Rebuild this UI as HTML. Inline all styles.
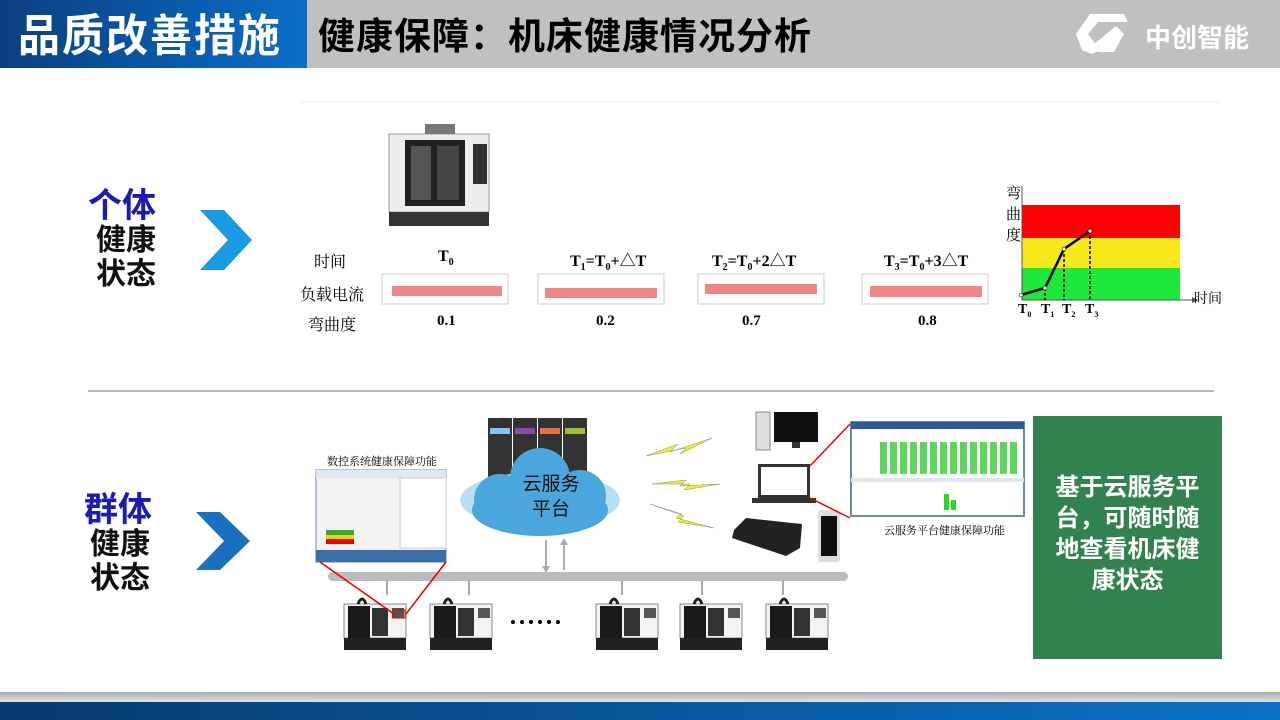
<!DOCTYPE html>
<html><head><meta charset="utf-8"><style>
*{margin:0;padding:0;box-sizing:border-box}
body{width:1280px;height:720px;position:relative;background:#fff;overflow:hidden;font-family:"Liberation Sans","Noto Sans CJK SC",sans-serif}
.a{position:absolute}
.hd{font-weight:bold;white-space:nowrap}
.ser{font-family:"Liberation Serif","Noto Serif CJK SC",serif}
</style></head><body>
<div class="a" style="left:0;top:0;width:307px;height:68px;background:linear-gradient(90deg,#0a3f80,#0a6ec8)"></div>
<div class="a" style="left:307px;top:0;width:973px;height:68px;background:#c0c0c0"></div>
<div class="a hd" style="left:18px;top:10px;font-size:42px;line-height:50px;color:#fff;letter-spacing:2px;transform:scaleY(1.05);transform-origin:left top">品质改善措施</div>
<div class="a hd" style="left:318px;top:14px;font-size:37px;line-height:46px;color:#000;letter-spacing:1px">健康保障：机床健康情况分析</div>
<svg class="a" style="left:1068px;top:12px" width="70" height="44"><polygon points="8,22 22,2 56,2 60,10 30,10 20,22 32,38 24,42 14,38" fill="#fff"/><polygon points="26,32 48,14 56,22 46,40 30,40" fill="#fff"/></svg>
<div class="a hd" style="left:1145px;top:18px;font-size:26px;color:#fff;letter-spacing:0px">中创智能</div>

<div class="a" style="left:300px;top:102px;width:920px;height:1px;background:#eee"></div>
<div class="a" style="left:88px;top:390px;width:1126px;height:2px;background:#bbb"></div>

<div class="a hd" style="left:88px;top:178px;font-size:34px;color:#1a1ab4">个体</div>
<div class="a hd" style="left:96px;top:224px;font-size:30px;line-height:34px;color:#111">健康<br>状态</div>
<svg class="a" style="left:200px;top:210px" width="52" height="60"><polygon points="0,0 24,0 52,30 24,60 0,60 28,30" fill="#1a9ae0"/></svg>
<div class="a hd" style="left:84px;top:482px;font-size:34px;color:#1a1ab4">群体</div>
<div class="a hd" style="left:90px;top:528px;font-size:30px;line-height:34px;color:#111">健康<br>状态</div>
<svg class="a" style="left:196px;top:512px" width="54" height="58"><polygon points="0,0 24,0 54,29 24,58 0,58 28,29" fill="#1a70c0"/></svg>

<svg class="a" style="left:385px;top:120px" width="115" height="110">
<rect x="4" y="14" width="100" height="78" fill="#eee" stroke="#999"/>
<rect x="20" y="20" width="60" height="66" fill="#222"/>
<rect x="26" y="26" width="20" height="54" fill="#555"/>
<rect x="52" y="26" width="22" height="54" fill="#444"/>
<rect x="88" y="24" width="14" height="40" fill="#333"/>
<rect x="40" y="4" width="30" height="10" fill="#777"/>
<rect x="4" y="92" width="100" height="14" fill="#333"/>
</svg>
<div class="a ser" style="left:314px;top:249px;font-size:16px">时间</div>
<div class="a ser" style="left:300px;top:282px;font-size:16px">负载电流</div>
<div class="a ser" style="left:308px;top:312px;font-size:16px">弯曲度</div>
<div class="a ser hd" style="left:438px;top:248px;font-size:16px">T<sub style="font-size:10px">0</sub></div>
<div class="a ser hd" style="left:570px;top:248px;font-size:16px">T<sub style="font-size:10px">1</sub>=T<sub style="font-size:10px">0</sub>+△T</div>
<div class="a ser hd" style="left:712px;top:248px;font-size:16px">T<sub style="font-size:10px">2</sub>=T<sub style="font-size:10px">0</sub>+2△T</div>
<div class="a ser hd" style="left:884px;top:248px;font-size:16px">T<sub style="font-size:10px">3</sub>=T<sub style="font-size:10px">0</sub>+3△T</div>
<div class="a ser hd" style="left:437px;top:313px;font-size:15px">0.1</div>
<div class="a ser hd" style="left:596px;top:313px;font-size:15px">0.2</div>
<div class="a ser hd" style="left:742px;top:313px;font-size:15px">0.7</div>
<div class="a ser hd" style="left:918px;top:313px;font-size:15px">0.8</div>
<svg class="a" style="left:380px;top:272px" width="620" height="36">
<g fill="none" stroke="#ccc"><rect x="2" y="2" width="126" height="30"/><rect x="158" y="2" width="126" height="30"/><rect x="318" y="2" width="126" height="30"/><rect x="482" y="2" width="126" height="30"/></g>
<g fill="#f07070" opacity=".85"><rect x="12" y="14" width="110" height="10"/><rect x="165" y="16" width="112" height="10"/><rect x="325" y="12" width="112" height="10"/><rect x="490" y="14" width="112" height="11"/></g>
</svg>
<svg class="a" style="left:1000px;top:180px" width="230" height="150">
<rect x="22" y="25" width="158" height="33" fill="#f00"/>
<rect x="22" y="58" width="158" height="30" fill="#f5e91a"/>
<rect x="22" y="88" width="158" height="32" fill="#1ee83c"/>
<line x1="22" y1="6" x2="22" y2="120" stroke="#555"/>
<line x1="22" y1="120" x2="192" y2="120" stroke="#555"/>
<polygon points="192,117 198,120 192,123" fill="#555"/>
<g stroke="#000" stroke-dasharray="3,2" stroke-width="1.5"><line x1="45" y1="108" x2="45" y2="120"/><line x1="64" y1="69" x2="64" y2="120"/><line x1="90" y1="51" x2="90" y2="120"/></g>
<polyline points="21,115 45,108 64,69 90,51" fill="none" stroke="#000" stroke-width="2.5"/>
<g fill="#fff" stroke="#000" stroke-width=".5"><circle cx="21" cy="115" r="2"/><circle cx="45" cy="108" r="2"/><circle cx="64" cy="69" r="2"/><circle cx="90" cy="51" r="2"/></g>
</svg>
<div class="a ser" style="left:1006px;top:184px;font-size:15px;line-height:21px">弯<br>曲<br>度</div>
<div class="a ser" style="left:1194px;top:288px;font-size:14px">时间</div>
<div class="a ser hd" style="left:1018px;top:302px;font-size:14px">T<sub style="font-size:8px">0</sub></div>
<div class="a ser hd" style="left:1041px;top:302px;font-size:14px">T<sub style="font-size:8px">1</sub></div>
<div class="a ser hd" style="left:1062px;top:302px;font-size:14px">T<sub style="font-size:8px">2</sub></div>
<div class="a ser hd" style="left:1085px;top:302px;font-size:14px">T<sub style="font-size:8px">3</sub></div>

<svg class="a" style="left:300px;top:400px" width="560" height="270">
<defs><g id="m"><rect x="0" y="12" width="62" height="34" fill="#f4f4f4" stroke="#888"/><rect x="4" y="14" width="22" height="32" fill="#1a1a1a"/><rect x="28" y="16" width="16" height="28" fill="#333"/><rect x="48" y="16" width="12" height="10" fill="#555"/><path d="M14 12 q4 -10 8 0" stroke="#222" fill="none" stroke-width="3"/><rect x="0" y="46" width="62" height="12" fill="#222"/></g></defs>
<rect x="28" y="172" width="520" height="9" rx="4.5" fill="#bbb"/>
<g stroke="#aaa" stroke-width="2"><line x1="87" y1="181" x2="87" y2="195"/><line x1="169" y1="181" x2="169" y2="195"/><line x1="322" y1="181" x2="322" y2="195"/><line x1="402" y1="181" x2="402" y2="195"/><line x1="483" y1="181" x2="483" y2="195"/><line x1="246" y1="140" x2="246" y2="170"/><line x1="264" y1="140" x2="264" y2="170"/></g>
<polygon points="242,166 246,173 250,166" fill="#aaa"/><polygon points="260,145 264,138 268,145" fill="#aaa"/>
<use href="#m" x="44" y="192"/><use href="#m" x="130" y="192"/><use href="#m" x="296" y="192"/><use href="#m" x="380" y="192"/><use href="#m" x="466" y="192"/>
<g fill="#000"><circle cx="213" cy="222" r="2"/><circle cx="222" cy="222" r="2"/><circle cx="231" cy="222" r="2"/><circle cx="240" cy="222" r="2"/><circle cx="249" cy="222" r="2"/><circle cx="258" cy="222" r="2"/></g>
<rect x="16" y="70" width="130" height="92" fill="#f2f2f2" stroke="#6a8ab0"/>
<rect x="16" y="70" width="130" height="8" fill="#e0e8f0"/>
<rect x="100" y="78" width="46" height="70" fill="#fff" stroke="#ccc"/>
<rect x="26" y="130" width="28" height="5" fill="#3a3"/><rect x="26" y="135" width="28" height="4" fill="#dd0"/><rect x="26" y="139" width="28" height="5" fill="#e00"/>
<rect x="16" y="150" width="130" height="12" fill="#3a6ea8"/>
<g stroke="#e00" stroke-width="1.5"><line x1="20" y1="162" x2="94" y2="214"/><line x1="146" y1="162" x2="106" y2="214"/></g>
<rect x="93" y="210" width="12" height="8" fill="none" stroke="#e00"/>
<g><rect x="188" y="18" width="24" height="70" fill="#333"/><rect x="213" y="18" width="24" height="70" fill="#333"/><rect x="238" y="18" width="24" height="70" fill="#333"/><rect x="263" y="18" width="24" height="70" fill="#333"/>
<rect x="190" y="28" width="20" height="6" fill="#7cc8ee"/><rect x="215" y="28" width="20" height="6" fill="#8a4aa8"/><rect x="240" y="28" width="20" height="6" fill="#e8704a"/><rect x="265" y="28" width="20" height="6" fill="#a0c030"/></g>
<g fill="#4aa6dc"><ellipse cx="240" cy="100" rx="80" ry="28" fill="#b8e0f4"/><ellipse cx="240" cy="110" rx="68" ry="26"/><circle cx="200" cy="100" r="26"/><circle cx="240" cy="78" r="30"/><circle cx="280" cy="96" r="26"/></g>
<g fill="#f0f020" stroke="#888" stroke-width=".5"><polygon points="346,56 378,44 370,52 412,38 380,54 386,48"/><polygon points="352,84 386,80 380,86 420,84 384,90 390,84"/><polygon points="350,104 382,114 376,118 414,128 378,122 384,116"/></g>
<rect x="456" y="12" width="14" height="38" fill="#ddd" stroke="#888"/><rect x="474" y="12" width="44" height="30" fill="#111"/><rect x="492" y="42" width="8" height="6" fill="#333"/>
<rect x="458" y="64" width="52" height="34" fill="#333"/><rect x="461" y="67" width="46" height="28" fill="#fff"/><rect x="452" y="98" width="64" height="5" fill="#333"/>
<polygon points="434,130 446,118 502,124 500,148 486,156 432,138" fill="#222"/>
<rect x="518" y="110" width="22" height="52" rx="3" fill="#ddd"/><rect x="521" y="116" width="16" height="40" fill="#111"/>
<g stroke="#e00" stroke-width="1.5"><line x1="510" y1="66" x2="550" y2="24"/><line x1="510" y1="98" x2="550" y2="118"/></g>
</svg>
<div class="a" style="left:516px;top:472px;font-size:19px;line-height:25px;color:#111;text-align:center;width:70px">云服务<br>平台</div>
<div class="a ser" style="left:327px;top:453px;font-size:11px">数控系统健康保障功能</div>
<div class="a" style="left:850px;top:421px;width:175px;height:96px;background:#fff;border:2px solid #6a8ab0"></div>
<div class="a" style="left:851px;top:422px;width:173px;height:7px;background:#2c5aa0"></div>
<div class="a" style="left:880px;top:442px;width:140px;height:32px;background:repeating-linear-gradient(90deg,#3c3 0 7px,#fff 7px 10px);opacity:.8"></div>
<div class="a" style="left:851px;top:478px;width:173px;height:4px;background:#dde8f0"></div>
<div class="a" style="left:944px;top:494px;width:5px;height:16px;background:#2d2"></div>
<div class="a" style="left:951px;top:500px;width:5px;height:10px;background:#2d2"></div>
<div class="a ser" style="left:884px;top:522px;font-size:11px">云服务平台健康保障功能</div>
<div class="a hd" style="left:1033px;top:416px;width:189px;height:243px;background:#31824e;color:#fff;font-size:24px;line-height:31px;text-align:center;padding-top:56px;white-space:normal">基于云服务平<br>台，可随时随<br>地查看机床健<br>康状态</div>

<div class="a" style="left:0;top:692px;width:1280px;height:10px;background:linear-gradient(#a8a8a8,#e4e4e4)"></div>
<div class="a" style="left:0;top:702px;width:1280px;height:18px;background:linear-gradient(90deg,#073a70,#0a72c8)"></div>
</body></html>
